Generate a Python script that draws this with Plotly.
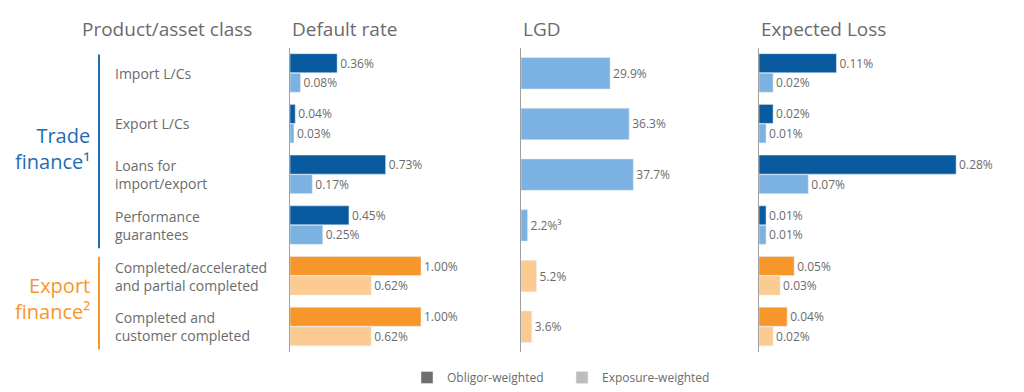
import plotly.graph_objects as go

categories = ["Import L/Cs", "Export L/Cs", "Loans for<br>import/export", "Performance<br>guarantees",
              "Completed/accelerated<br>and partial completed", "Completed and<br>customer completed"]
groups = ["trade", "trade", "trade", "trade", "export", "export"]

default_obligor = [0.36, 0.04, 0.73, 0.45, 1.00, 1.00]
default_exposure = [0.08, 0.03, 0.17, 0.25, 0.62, 0.62]
lgd_exposure = [29.9, 36.3, 37.7, 2.2, 5.2, 3.6]
lgd_labels = ["29.9%", "36.3%", "37.7%", "2.2%³", "5.2%", "3.6%"]
el_obligor = [0.11, 0.02, 0.28, 0.01, 0.05, 0.04]
el_exposure = [0.02, 0.01, 0.07, 0.01, 0.03, 0.02]

panel_titles = ["Default rate", "LGD", "Expected Loss"]
legend_names = ["Obligor-weighted", "Exposure-weighted"]

DARK = {"trade": "#0a5aa0", "export": "#f7962a"}
LIGHT = {"trade": "#7cb2e2", "export": "#fccb91"}
GRAY_TXT = "#6b6b6b"
FONT = "Open Sans"

W, H = 1024, 392
def px(x):
    return x / W
def py(y):
    return 1 - y / H

rows = list(range(len(categories)))
dark_cols = [DARK[g] for g in groups]
light_cols = [LIGHT[g] for g in groups]

fig = go.Figure()

def pct2(v):
    return [f"{x:.2f}%" for x in v]

tf = dict(size=12, color=GRAY_TXT, family=FONT)
common = dict(orientation="h", textposition="outside", textfont=tf, cliponaxis=False,
              constraintext="none", showlegend=False, hoverinfo="skip")

# Default rate
fig.add_trace(go.Bar(y=rows, x=default_obligor, marker_color=dark_cols, offset=-0.385, width=0.375,
                     text=pct2(default_obligor), xaxis="x", yaxis="y", **common))
fig.add_trace(go.Bar(y=rows, x=default_exposure, marker_color=light_cols, offset=0.0, width=0.375,
                     text=pct2(default_exposure), xaxis="x", yaxis="y", **common))
# LGD
fig.add_trace(go.Bar(y=rows, x=lgd_exposure, marker_color=light_cols, offset=-0.31, width=0.62,
                     text=lgd_labels, xaxis="x2", yaxis="y2", **common))
# Expected loss
fig.add_trace(go.Bar(y=rows, x=el_obligor, marker_color=dark_cols, offset=-0.385, width=0.375,
                     text=pct2(el_obligor), xaxis="x3", yaxis="y3", **common))
fig.add_trace(go.Bar(y=rows, x=el_exposure, marker_color=light_cols, offset=0.0, width=0.375,
                     text=pct2(el_exposure), xaxis="x3", yaxis="y3", **common))

# legend dummy traces
for name, col in zip(legend_names, ["#6e6e6e", "#bdbdbd"]):
    fig.add_trace(go.Bar(y=[None], x=[None], orientation="h", name=name, marker_color=col,
                         xaxis="x", yaxis="y", showlegend=True))

ydom = [py(353), py(48)]
yrange = [5.5, -0.5]

# panels: (left px, right px, px per unit)
panels = [(290, 500, 131.0), (521, 730, 2.98), (759, 1010, 704.0)]
layout_axes = {}
for i, (l, r, s) in enumerate(panels):
    xn = "xaxis" if i == 0 else f"xaxis{i+1}"
    yn = "yaxis" if i == 0 else f"yaxis{i+1}"
    layout_axes[xn] = dict(domain=[px(l), px(r)], range=[0, (r - l) / s], visible=False,
                           anchor="y" if i == 0 else f"y{i+1}", fixedrange=True)
    layout_axes[yn] = dict(domain=ydom, range=yrange, showticklabels=False, showgrid=False,
                           zeroline=False, showline=True, linecolor="#a0a0a0", linewidth=1,
                           ticks="", anchor="x" if i == 0 else f"x{i+1}", fixedrange=True)

annotations = []
# headers
annotations.append(dict(text="Product/asset class", x=px(80), y=py(29), xref="paper", yref="paper",
                        xanchor="left", yanchor="middle", showarrow=False,
                        font=dict(size=19, color=GRAY_TXT, family=FONT)))
for t, (l, r, s) in zip(panel_titles, panels):
    annotations.append(dict(text=t, x=px(l), y=py(29), xref="paper", yref="paper",
                            xanchor="left", yanchor="middle", showarrow=False,
                            font=dict(size=19, color=GRAY_TXT, family=FONT)))
# category labels
for r_, c in zip(rows, categories):
    annotations.append(dict(text=c, x=px(113), y=r_, xref="paper", yref="y",
                            xanchor="left", yanchor="middle", align="left", showarrow=False,
                            font=dict(size=14, color=GRAY_TXT, family=FONT)))
# group labels
annotations.append(dict(text="Trade<br>finance¹", x=px(92), y=1.48, xref="paper", yref="y",
                        xanchor="right", yanchor="middle", align="right", showarrow=False,
                        font=dict(size=20, color="#1f6cb4", family=FONT)))
annotations.append(dict(text="Export<br>finance²", x=px(92), y=4.45, xref="paper", yref="y",
                        xanchor="right", yanchor="middle", align="right", showarrow=False,
                        font=dict(size=20, color="#f7962a", family=FONT)))

shapes = [
    dict(type="line", xref="paper", yref="y", x0=px(99), x1=px(99), y0=-0.37, y1=3.45,
         line=dict(color="#1f6cb4", width=2)),
    dict(type="line", xref="paper", yref="y", x0=px(99), x1=px(99), y0=3.62, y1=5.45,
         line=dict(color="#f7962a", width=2)),
]

fig.update_layout(
    width=W, height=H,
    margin=dict(l=0, r=0, t=0, b=0),
    paper_bgcolor="white", plot_bgcolor="white",
    barmode="overlay",
    font=dict(family=FONT, color=GRAY_TXT),
    annotations=annotations, shapes=shapes,
    legend=dict(orientation="h", x=px(407), y=py(378), xanchor="left", yanchor="middle",
                font=dict(size=12, color=GRAY_TXT, family=FONT), traceorder="normal",
                itemwidth=30, entrywidth=110, bgcolor="rgba(0,0,0,0)"),
    **layout_axes,
)

fig.write_html("out.html", config={"displayModeBar": False},
               post_script="document.body.style.margin='0';")
